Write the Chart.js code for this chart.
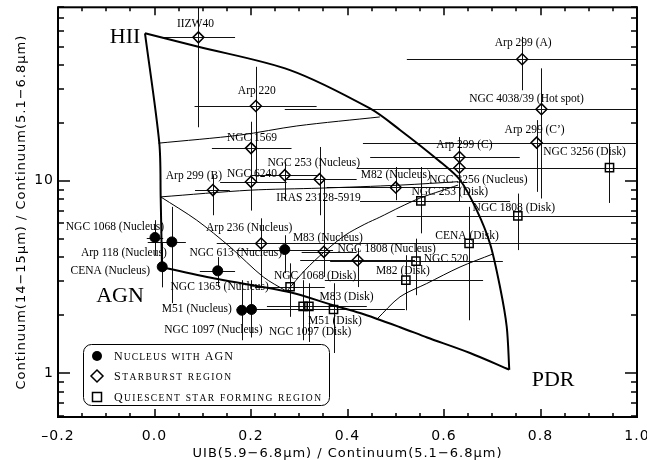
<!DOCTYPE html>
<html>
<head>
<meta charset="utf-8">
<script src="https://cdn.jsdelivr.net/npm/chart.js@4.4.1/dist/chart.umd.min.js"></script>
<style>
  html, body { margin: 0; padding: 0; background: #fff; }
  #c { display: block; }
</style>
</head>
<body>
<canvas id="c" width="647" height="460"></canvas>
<script>
// --- nuclei with AGN (filled circles) ---
const agnNames = ['NGC 1068 (Nucleus)', 'Arp 118 (Nucleus)', 'CENA (Nucleus)', 'NGC 1365 (Nucleus)',
    'NGC 613 (Nucleus)', 'M51 (Nucleus)', 'NGC 1097 (Nucleus)'];
const agnX = [0.001, 0.036, 0.016, 0.131, 0.270, 0.181, 0.201];
const agnY = [5.07, 4.81, 3.57, 3.40, 4.39, 2.12, 2.14];
const agnXLo = [-0.016, -0.014, null, 0.094, 0.170, null, 0.170];
const agnXHi = [0.018, 0.065, null, 0.167, 0.370, null, 0.260];
const agnYLo = [4.10, 2.31, 2.79, 2.80, 3.31, 1.48, 1.53];
const agnYHi = [6.24, 7.32, 4.74, 4.01, 5.21, 3.04, 3.04];

// --- starburst regions (diamonds) ---
const sbNames = ['IIZW40', 'Arp 220', 'NGC 1569', 'NGC 6240', 'NGC 253 (Nucleus)', 'IRAS 23128-5919',
    'Arp 299 (B)', 'M82 (Nucleus)', 'Arp 299 (A)', 'NGC 4038/39 (Hot spot)', 'Arp 299 (C\u2019)',
    'Arp 299 (C)', 'NGC 3256 (Nucleus)', 'Arp 236 (Nucleus)', 'M83 (Nucleus)', 'NGC 1808 (Nucleus)'];
const sbX = [0.091, 0.210, 0.200, 0.200, 0.270, 0.342, 0.121, 0.500, 0.762, 0.802, 0.792, 0.632, 0.632, 0.221, 0.351, 0.421];
const sbY = [55.8, 24.5, 14.8, 9.88, 10.7, 10.2, 8.95, 9.24, 42.9, 23.6, 15.8, 13.3, 11.7, 4.72, 4.27, 3.86];
const sbXLo = [0.011, 0.083, 0.119, 0.136, 0.200, 0.274, 0.084, 0.357, 0.523, 0.270, 0.432, 0.447, 0.419, 0.129, 0.305, 0.302];
const sbXHi = [0.167, 0.336, 0.284, 0.274, 0.340, 0.419, 0.156, 0.633, 1.05, 1.33, 1.15, 0.757, 0.844, 0.314, 0.419, 0.540];
const sbYLo = [19.0, 9.8, 8.95, 7.0, 8.0, 6.62, 6.62, 7.93, 29.6, 8.09, 8.76, 7.93, 7.78, 2.80, 3.16, 2.80];
const sbYHi = [100, 39.2, 20.3, 12.8, 12.5, 15.0, 10.7, 11.8, 56.2, 38.5, 20.7, 16.9, 12.8, 6.38, 10.1, 4.46];

// --- quiescent star forming regions (squares) ---
const qsNames = ['NGC 3256 (Disk)', 'NGC 253 (Disk)', 'NGC 1808 (Disk)', 'CENA (Disk)', 'NGC 520',
    'M82 (Disk)', 'NGC 1068 (Disk)', 'NGC 1097 (Disk)', 'M51 (Disk)', 'M83 (Disk)'];
const qsX = [0.943, 0.552, 0.753, 0.652, 0.542, 0.521, 0.281, 0.308, 0.320, 0.371];
const qsY = [11.7, 7.87, 6.57, 4.72, 3.82, 3.04, 2.81, 2.22, 2.22, 2.14];
const qsXLo = [0.80, 0.426, 0.502, 0.217, 0.364, 0.353, 0.208, 0.233, 0.260, 0.260];
const qsXHi = [1.09, 0.737, 1.004, 1.09, 0.722, 0.681, 0.353, 0.440, 0.384, 0.519];
const qsYLo = [7.67, 5.33, 4.36, 1.88, 2.54, 2.12, 1.96, 1.48, 1.45, 1.27];
const qsYHi = [15.7, 11.8, 8.58, 7.32, 5.0, 4.10, 3.72, 3.04, 2.93, 2.93];

// --- model diagram: thick outline and thin mixing curves ---
const edgeTopX = [-0.0197, 0.0908, 0.2808, 0.4466, 0.5088, 0.5882, 0.6332, 0.6678, 0.6953, 0.716, 0.730, 0.7353];
const edgeTopY = [58.6, 49.9, 37.7, 23.8, 18.4, 12.8, 10.1, 7.04, 4.72, 2.81, 1.74, 1.04];
const edgeLeftX = [-0.0197, 0.010, 0.0128, 0.0155];
const edgeLeftY = [58.6, 15.7, 8.25, 3.55];
const edgeLowX = [0.0155, 0.131, 0.281, 0.370, 0.426, 0.509, 0.565, 0.654, 0.7353];
const edgeLowY = [3.55, 3.08, 2.63, 2.25, 2.05, 1.73, 1.53, 1.27, 1.04];
const lineAX = [0.008, 0.177, 0.295, 0.467];
const lineAY = [15.7, 17.3, 19.3, 21.5];
const lineBX = [0.0128, 0.198, 0.343, 0.509, 0.630];
const lineBY = [8.25, 8.94, 9.16, 9.50, 9.90];
const lineCX = [0.0128, 0.0875, 0.1565, 0.2255, 0.274];
const lineCY = [8.25, 6.24, 4.53, 3.16, 2.66];
const lineDX = [0.274, 0.312, 0.351, 0.395, 0.436, 0.467, 0.509, 0.550, 0.592, 0.629];
const lineDY = [2.66, 3.43, 4.25, 5.21, 5.95, 6.47, 7.30, 8.13, 8.84, 9.50];
const lineEX = [0.4605, 0.5088, 0.5641, 0.6332, 0.700];
const lineEY = [1.90, 2.49, 2.92, 3.56, 4.15];

// --- region names ---
const regionNames = ['HII', 'AGN', 'PDR'];
const regionX = [-0.061, -0.0715, 0.826];
const regionY = [56.2, 2.51, 0.916];

// --- axes ---
const xTickVals = [-0.2, 0.0, 0.2, 0.4, 0.6, 0.8, 1.0];
const yLabelVals = [1, 10];
const yMinorVals = [0.6, 0.7, 0.8, 0.9, 1, 2, 3, 4, 5, 6, 7, 8, 9, 10, 20, 30, 40, 50, 60, 70, 80];

// label offsets from each marker, in pixels
const agnLabelAt = [[-40, -11], [-48, 11], [-52, 4], [2, 16], [-49, 3], [-45, -1], [-38, 21]];
const sbLabelAt = [[-3, -13], [1, -15], [1, -10], [1, -8], [29, -12], [-1, 19], [-19, -14], [0, -12],
    [1, -16], [-15, -10], [-2, -13], [5, -12], [19, 12], [-12, -15], [4, -14], [29, -11]];
const qsLabelAt = [[-25, -16], [29, -9], [-4, -8], [-2, -7], [30, -2], [-3, -9], [25, -11], [7, 26], [26, 15], [13, -12]];

const groups = [
    { names: agnNames, x: agnX, y: agnY, xLo: agnXLo, xHi: agnXHi, yLo: agnYLo, yHi: agnYHi, at: agnLabelAt },
    { names: sbNames, x: sbX, y: sbY, xLo: sbXLo, xHi: sbXHi, yLo: sbYLo, yHi: sbYHi, at: sbLabelAt },
    { names: qsNames, x: qsX, y: qsY, xLo: qsXLo, xHi: qsXHi, yLo: qsYLo, yHi: qsYHi, at: qsLabelAt }
];

const pts = (xs, ys) => xs.map((v, i) => ({ x: v, y: ys[i] }));
const curve = (xs, ys, w) => ({
    data: pts(xs, ys), showLine: true, borderColor: '#000', borderWidth: w,
    pointRadius: 0, tension: 0.3, fill: false
});

const SERIF = "'Liberation Serif', 'Times New Roman', serif";

// axis texts of the original are widely spaced
const spacing = {
    id: 'spacing',
    beforeDraw(chart) { chart.ctx.letterSpacing = '1px'; }
};

// error bars under the markers
const errorBars = {
    id: 'errorBars',
    beforeDatasetsDraw(chart) {
        const { ctx, chartArea: a, scales: { x, y } } = chart;
        ctx.letterSpacing = '0px';
        ctx.save();
        ctx.beginPath();
        ctx.rect(a.left, a.top, a.right - a.left, a.bottom - a.top);
        ctx.clip();
        ctx.strokeStyle = '#111';
        ctx.lineWidth = 1;
        ctx.beginPath();
        groups.forEach(g => {
            g.x.forEach((xv, i) => {
                const px = Math.round(x.getPixelForValue(xv)) + 0.5;
                const py = Math.round(y.getPixelForValue(g.y[i])) + 0.5;
                if (g.xLo[i] != null) {
                    ctx.moveTo(x.getPixelForValue(g.xLo[i]), py);
                    ctx.lineTo(x.getPixelForValue(g.xHi[i]), py);
                }
                if (g.yLo[i] != null) {
                    ctx.moveTo(px, y.getPixelForValue(g.yLo[i]));
                    ctx.lineTo(px, y.getPixelForValue(g.yHi[i]));
                }
            });
        });
        ctx.stroke();
        ctx.restore();
    }
};

// small caps text stretched to a given width
function smallCaps(ctx, text, x, y, width) {
    const parts = [...text].map(ch => {
        const up = ch.toUpperCase();
        return { ch: up, size: ch === up ? 12 : 9.5 };
    });
    let natural = 0;
    parts.forEach(p => {
        ctx.font = p.size + 'px ' + SERIF;
        p.w = ctx.measureText(p.ch).width;
        natural += p.w;
    });
    const gap = (width - natural) / (parts.length - 1);
    let cx = x;
    parts.forEach(p => {
        ctx.font = p.size + 'px ' + SERIF;
        ctx.fillText(p.ch, cx, y);
        cx += p.w + gap;
    });
}

// labels, inward ticks, frame and legend
const decorations = {
    id: 'decorations',
    afterDatasetsDraw(chart) {
        const { ctx, chartArea: a, scales: { x, y } } = chart;
        ctx.save();
        ctx.letterSpacing = '0px';
        ctx.fillStyle = '#000';
        ctx.textAlign = 'center';
        ctx.textBaseline = 'middle';
        ctx.font = '11.5px ' + SERIF;
        groups.forEach(g => {
            g.names.forEach((n, i) => {
                const px = x.getPixelForValue(g.x[i]);
                const py = y.getPixelForValue(g.y[i]);
                ctx.fillText(n, px + g.at[i][0], py + g.at[i][1]);
            });
        });
        ctx.font = '22px ' + SERIF;
        regionNames.forEach((n, i) => {
            ctx.fillText(n, x.getPixelForValue(regionX[i]), y.getPixelForValue(regionY[i]));
        });

        // ticks on all four sides, pointing inward
        ctx.strokeStyle = '#000';
        ctx.lineWidth = 1.5;
        ctx.beginPath();
        for (let i = 0; i <= 24; i++) {
            const px = Math.round(x.getPixelForValue(-0.2 + i * 0.05));
            const len = i % 4 === 0 ? 8 : 4;
            ctx.moveTo(px, a.bottom); ctx.lineTo(px, a.bottom - len);
            ctx.moveTo(px, a.top); ctx.lineTo(px, a.top + len);
        }
        yMinorVals.forEach(v => {
            const py = Math.round(y.getPixelForValue(v));
            const len = yLabelVals.includes(v) ? 12 : 6;
            ctx.moveTo(a.left, py); ctx.lineTo(a.left + len, py);
            ctx.moveTo(a.right, py); ctx.lineTo(a.right - len, py);
        });
        ctx.stroke();
        ctx.lineWidth = 2;
        ctx.strokeRect(a.left, a.top, a.right - a.left, a.bottom - a.top);

        // legend box
        const bx = 83, by = 344, bw = 246, bh = 61;
        ctx.lineWidth = 1;
        ctx.fillStyle = '#fff';
        ctx.beginPath();
        ctx.roundRect(bx + 0.5, by + 0.5, bw, bh, 8);
        ctx.fill();
        ctx.stroke();
        const rows = [356, 376, 397];
        const mx = 97;
        ctx.fillStyle = '#000';
        ctx.beginPath();
        ctx.arc(mx, rows[0], 5, 0, Math.PI * 2);
        ctx.fill();
        ctx.lineWidth = 1.5;
        ctx.beginPath();
        ctx.moveTo(mx, rows[1] - 6); ctx.lineTo(mx + 6, rows[1]);
        ctx.lineTo(mx, rows[1] + 6); ctx.lineTo(mx - 6, rows[1]);
        ctx.closePath();
        ctx.stroke();
        ctx.strokeRect(mx - 4.5, rows[2] - 4.5, 9, 9);
        ctx.textAlign = 'left';
        ctx.textBaseline = 'alphabetic';
        smallCaps(ctx, 'Nucleus with AGN', 114, rows[0] + 4, 119);
        smallCaps(ctx, 'Starburst region', 114, rows[1] + 4, 117);
        smallCaps(ctx, 'Quiescent star forming region', 114, rows[2] + 4, 207);
        ctx.restore();
    }
};

Chart.defaults.font.family = "'DejaVu Sans', sans-serif";
Chart.defaults.color = '#000';

new Chart(document.getElementById('c'), {
    type: 'scatter',
    data: {
        datasets: [
            curve(edgeTopX, edgeTopY, 2),
            curve(edgeLeftX, edgeLeftY, 2),
            curve(edgeLowX, edgeLowY, 2),
            curve(lineAX, lineAY, 1),
            curve(lineBX, lineBY, 1),
            curve(lineCX, lineCY, 1),
            curve(lineDX, lineDY, 1),
            curve(lineEX, lineEY, 1),
            {
                data: pts(agnX, agnY), pointStyle: 'circle', pointRadius: 5,
                backgroundColor: '#000', borderColor: '#000', borderWidth: 1
            },
            {
                data: pts(sbX, sbY), pointStyle: 'rectRot', pointRadius: 5.5,
                backgroundColor: 'rgba(0,0,0,0)', borderColor: '#000', borderWidth: 1.5
            },
            {
                data: pts(qsX, qsY), pointStyle: 'rect', pointRadius: 5.8,
                backgroundColor: 'rgba(0,0,0,0)', borderColor: '#000', borderWidth: 1.5
            }
        ]
    },
    options: {
        responsive: false,
        animation: false,
        devicePixelRatio: 1,
        layout: { padding: { left: 0, right: 10, top: 7, bottom: 0 } },
        plugins: { legend: { display: false }, tooltip: { enabled: false } },
        scales: {
            x: {
                type: 'linear', min: -0.2, max: 1.0,
                afterFit: s => { s.height = 43; s.paddingLeft = 0; s.paddingRight = 0; },
                afterBuildTicks: s => { s.ticks = xTickVals.map(v => ({ value: v })); },
                grid: { display: false, drawTicks: false },
                border: { display: false },
                ticks: {
                    padding: 11, font: { size: 14 },
                    callback: v => v.toFixed(1).replace('-', '\u2013')
                },
                title: {
                    display: true, text: 'UIB(5.9\u22126.8\u03bcm) / Continuum(5.1\u22126.8\u03bcm)',
                    font: { size: 13, lineHeight: 1 }, padding: { top: 0, bottom: 0 }
                }
            },
            y: {
                type: 'logarithmic', min: 0.59, max: 80,
                afterFit: s => { s.width = 58; s.paddingTop = 0; s.paddingBottom = 0; },
                afterBuildTicks: s => { s.ticks = yLabelVals.map(v => ({ value: v })); },
                grid: { display: false, drawTicks: false },
                border: { display: false },
                ticks: {
                    padding: 4, font: { size: 14 }, autoSkip: false,
                    callback: v => String(v)
                },
                title: {
                    display: true, text: 'Continuum(14\u221215\u03bcm) / Continuum(5.1\u22126.8\u03bcm)',
                    font: { size: 13 }, padding: { top: 14, bottom: 0 }
                }
            }
        }
    },
    plugins: [spacing, errorBars, decorations]
});
</script>
</body>
</html>
